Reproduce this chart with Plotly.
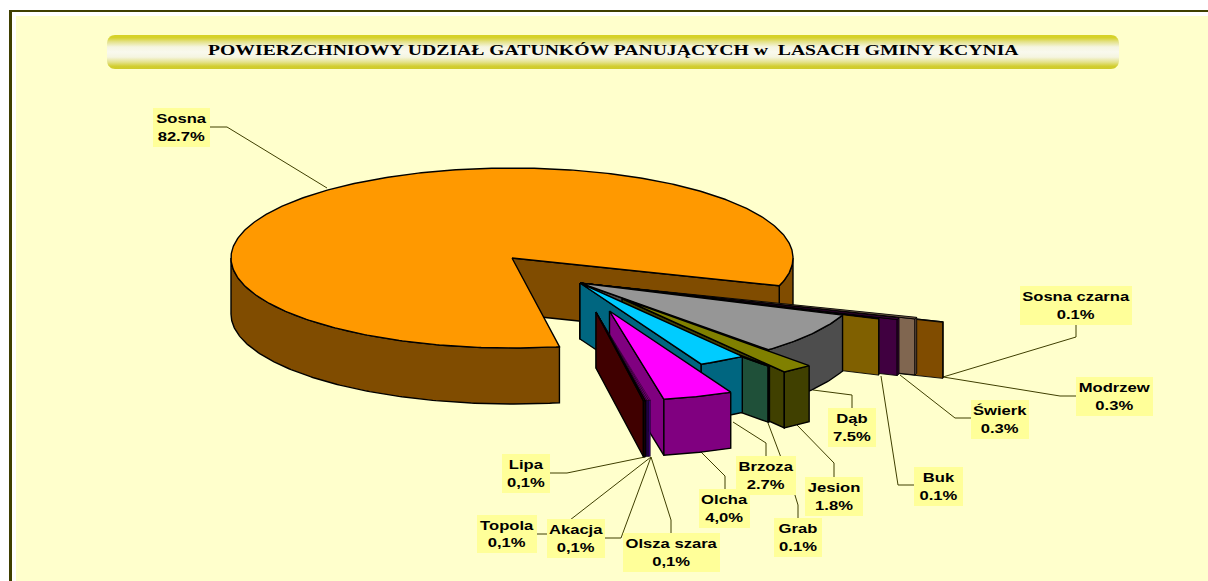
import math
import plotly.graph_objects as go

# ---------- data ----------
species = ["Sosna", "Sosna czarna", "Modrzew", "Świerk", "Buk", "Dąb", "Grab", "Jesion",
           "Brzoza", "Olcha", "Olsza szara", "Akacja", "Topola", "Lipa"]
shares = [82.7, 0.1, 0.3, 0.3, 0.1, 7.5, 0.1, 1.8, 2.7, 4.0, 0.1, 0.1, 0.1, 0.1]
share_text = ["82.7%", "0.1%", "0.3%", "0.3%", "0.1%", "7.5%", "0.1%", "1.8%",
              "2.7%", "4,0%", "0,1%", "0,1%", "0,1%", "0,1%"]
title_text = "POWIERZCHNIOWY UDZIAŁ GATUNKÓW PANUJĄCYCH w  LASACH GMINY KCYNIA"

# ---------- projection of the 3-D pie ----------
CX, CY, RX, RY, DEPTH = 512, 258, 281, 90, 56
START = 18.0
CLUSTER = (68, 25)

# per-slice styling: explosion offset, top colour, side colour, wall start fraction, outline width
style = {
    "Sosna":        dict(off=(0, 0), top="#FF9900", side="#804C00"),
    "Sosna czarna": dict(off=(96, 11), top="#804C00", side="#804C00", long=True, lw=0.9),
    "Modrzew":      dict(off=(70, 6), top="#806650", side="#806650", long=True, lw=0.9),
    "Świerk":       dict(off=(54, 5), top="#400040", side="#400040", long=True, lw=0.9),
    "Buk":          dict(off=(36, 4), top="#806000", side="#806000", long=True, lw=0.9),
    "Dąb":          dict(off=(0, 0), top="#969696", side="#4D4D4D"),
    "Grab":         dict(off=(1, 16), top="#1F5039", side="#1F5039", wall=0.5),
    "Jesion":       dict(off=(42, 15.5), top="#808000", side="#404000"),
    "Brzoza":       dict(off=(0, 0), top="#00CCFF", side="#006680"),
    "Olcha":        dict(off=(29.5, 28), top="#FF00FF", side="#800080"),
    "Olsza szara":  dict(off=(16, 29), top="#800080", side="#400080", lw=0.4),
    "Akacja":       dict(off=(16, 29), top="#800080", side="#300060", lw=0.4),
    "Topola":       dict(off=(16, 29), top="#600060", side="#200040", lw=0.4),
    "Lipa":         dict(off=(16, 29), top="#800000", side="#400000", lw=1.4),
}
draw_order = ["Sosna czarna", "Modrzew", "Świerk", "Buk", "Dąb", "Jesion", "Grab", "Brzoza",
              "Olcha", "Olsza szara", "Akacja", "Topola", "Lipa"]

# label boxes: left, right, top, bottom
boxes = {
    "Sosna": (153, 210, 108, 147), "Sosna czarna": (1020, 1132, 286, 325),
    "Modrzew": (1076, 1153, 377, 416), "Świerk": (971, 1029, 400, 439),
    "Buk": (914, 963, 467, 506), "Dąb": (828, 876, 408, 447),
    "Grab": (774, 822, 518, 557), "Jesion": (805, 863, 477, 516),
    "Olcha": (699, 750, 489, 528), "Brzoza": (736, 796, 456, 495),
    "Olsza szara": (623, 720, 533, 572), "Akacja": (547, 605, 519, 558),
    "Topola": (477, 537, 515, 553), "Lipa": (502, 550, 454, 493),
}
leaders = [
    [(210, 127), (227, 127), (327, 188)],
    [(1076, 325), (1076, 337), (943, 377)],
    [(1076, 396), (1060, 396), (937, 376)],
    [(971, 418), (955, 418), (900, 375)],
    [(914, 485), (898, 485), (881, 376)],
    [(852, 408), (852, 395), (813, 390)],
    [(834, 477), (834, 463), (797, 425)],
    [(798, 518), (798, 505), (794, 492), (768, 423)],
    [(766, 456), (766, 443), (733, 422)],
    [(725, 489), (725, 476), (701, 452)],
    [(671, 533), (671, 520), (651, 457)],
    [(605, 538), (621, 538), (651, 457)],
    [(537, 534), (552, 534), (651, 457)],
    [(550, 473), (567, 473), (645, 457)],
]

# angles from the values
angles = {}
a = START
for name, v in zip(species[1:], shares[1:]):
    angles[name] = (a, a + v * 3.6)
    a += v * 3.6
angles[species[0]] = (a, START + 360)


def pt(cx, cy, deg):
    t = math.radians(deg)
    return cx + RX * math.cos(t), cy + RY * math.sin(t)


def arc(cx, cy, a0, a1, n=None):
    n = n or max(2, int(abs(a1 - a0) * 1.5))
    return [pt(cx, cy, a0 + (a1 - a0) * i / n) for i in range(n + 1)]


fig = go.Figure()


def poly(points, color, lw=1.4):
    xs = [p[0] for p in points] + [points[0][0]]
    ys = [p[1] for p in points] + [points[0][1]]
    fig.add_trace(go.Scatter(x=xs, y=ys, mode="lines", fill="toself", fillcolor=color,
                             line=dict(color="#000000", width=lw), hoverinfo="skip", showlegend=False))


def side_face(cx, cy, a0, a1, color, lw=1.4):
    top = arc(cx, cy, a0, a1)
    bot = [(x, y + DEPTH) for x, y in reversed(top)]
    poly(top + bot, color, lw)


# title bar with rounded corners
BX0, BX1, BY0, BY1, BR = 107, 1119, 35, 69, 8
bar = []
for (qx, qy, s) in [(BX1 - BR, BY0 + BR, -90), (BX1 - BR, BY1 - BR, 0), (BX0 + BR, BY1 - BR, 90), (BX0 + BR, BY0 + BR, 180)]:
    for i in range(9):
        t = math.radians(s + i * 90 / 8)
        bar.append((qx + BR * math.cos(t), qy + BR * math.sin(t)))
bar.append(bar[0])
fig.add_trace(go.Scatter(
    x=[p[0] for p in bar], y=[p[1] for p in bar], mode="lines", fill="toself",
    line=dict(width=0, color="rgba(0,0,0,0)"), hoverinfo="skip", showlegend=False,
    fillgradient=dict(type="vertical", colorscale=[[0, "#CFCB2A"], [0.08, "#D2CE30"], [0.2, "#E4E28A"], [0.35, "#F5F5E0"], [0.5, "#F9F9EE"],
                                                   [0.65, "#F5F5E0"], [0.8, "#E4E28A"], [0.92, "#D6D22C"], [1, "#D6D224"]]),
))

# leader lines
for ln in leaders:
    fig.add_trace(go.Scatter(x=[p[0] for p in ln], y=[p[1] for p in ln], mode="lines",
                             line=dict(color="#3F3F00", width=1), hoverinfo="skip", showlegend=False))

# main slice
a0, a1 = angles["Sosna"]
st = style["Sosna"]
side_face(CX, CY, a0, 180, st["side"])
side_face(CX, CY, 360, a1, st["side"])
e = pt(CX, CY, a1)
poly([(CX, CY), e, (e[0], e[1] + DEPTH), (CX, CY + DEPTH)], st["side"])
poly([(CX, CY)] + arc(CX, CY, a0, a1), st["top"])

# exploded slices
base = (CX + CLUSTER[0], CY + CLUSTER[1])
for name in draw_order:
    st = style[name]
    lw = st.get("lw", 1.4)
    a0, a1 = angles[name]
    cx = base[0] + st["off"][0]
    cy = base[1] + st["off"][1]
    e = pt(cx, cy, a1)
    f = st.get("wall", 0.0)
    s = (cx + (e[0] - cx) * f, cy + (e[1] - cy) * f)
    if st.get("long"):
        s = base
    poly([s, e, (e[0], e[1] + DEPTH), (s[0], s[1] + DEPTH)], st["side"], lw)
    side_face(cx, cy, a0, a1, st["side"], lw)
    poly([s] + arc(cx, cy, a0, a1) if st.get("long") else [(cx, cy)] + arc(cx, cy, a0, a1), st["top"], lw)

# labels
anns = [dict(x=613, y=49, xref="x", yref="y", text=title_text, showarrow=False,
             font=dict(family="Liberation Serif", size=15.5, color="#000000", weight=700))]
for name, txt in zip(species, share_text):
    l, r, t, b = boxes[name]
    anns.append(dict(x=(l + r) / 2, y=(t + b) / 2, xref="x", yref="y", xanchor="center", yanchor="middle",
                     text=f"{name}<br>{txt}", showarrow=False, align="center", valign="middle",
                     width=r - l, height=b - t, bgcolor="#FFFF99", borderpad=0, borderwidth=0,
                     font=dict(family="Liberation Sans", size=13.5, color="#000000", weight=700)))

shapes = [
    dict(type="rect", xref="x", yref="y", x0=16, x1=1208, y0=16, y1=581, fillcolor="#FFFFCC", line_width=0, layer="below"),
    dict(type="rect", xref="x", yref="y", x0=9, x1=1208, y0=10, y1=12, fillcolor="#3F3F00", line_width=0, layer="below"),
    dict(type="rect", xref="x", yref="y", x0=9, x1=12, y0=10, y1=581, fillcolor="#3F3F00", line_width=0, layer="below"),
]

fig.update_layout(
    width=1208, height=581, autosize=False, margin=dict(l=0, r=0, t=0, b=0),
    paper_bgcolor="#FFFFFF", plot_bgcolor="rgba(0,0,0,0)", showlegend=False,
    xaxis=dict(range=[0, 1208], visible=False, fixedrange=True),
    yaxis=dict(range=[581, 0], visible=False, fixedrange=True),
    annotations=anns, shapes=shapes, hovermode=False,
)

# widen the annotation text horizontally, as the source raster was stretched
stretch_js = """
document.body.style.margin='0';document.body.style.overflow='hidden';
function stretchText(){
  document.querySelectorAll('.annotation-text').forEach(function(t,i){
    var b=t.getBBox(); var c=b.x+b.width/2; var k=(i===0)?1.27:1.23;
    t.setAttribute('transform','translate('+c+',0) scale('+k+',1) translate('+(-c)+',0)');
  });
}
stretchText(); setTimeout(stretchText,30);
"""
fig.write_html("out.html", config={"displayModeBar": False}, post_script=stretch_js)
